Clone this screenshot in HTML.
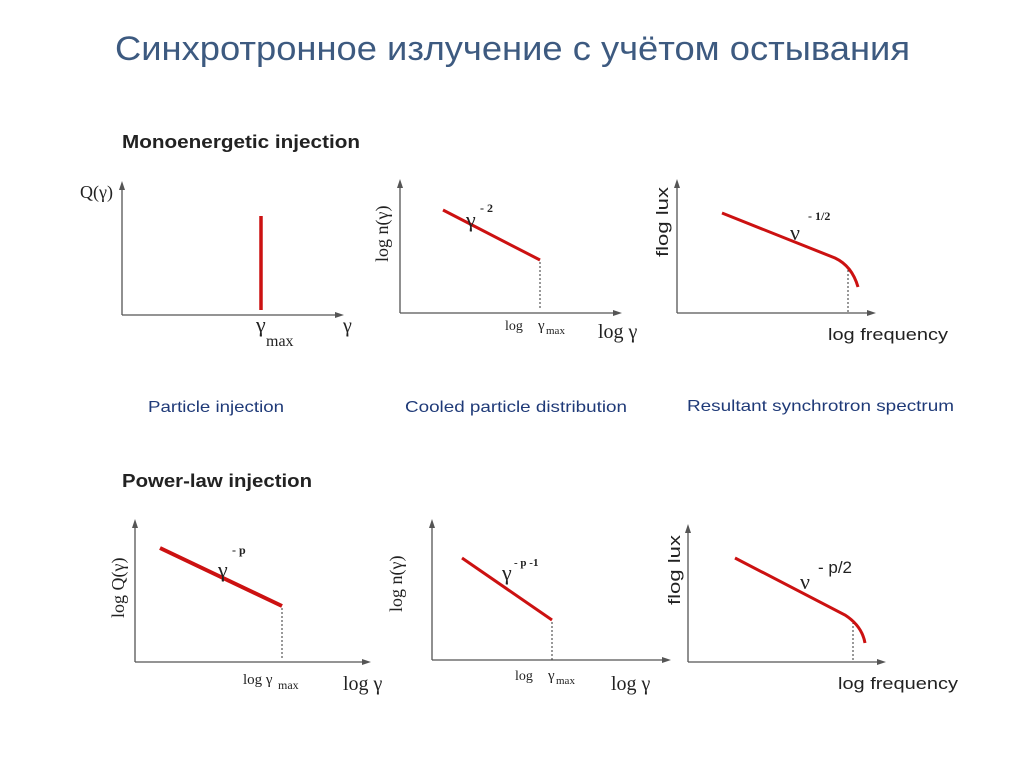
<!DOCTYPE html>
<html><head><meta charset="utf-8"><style>
body{margin:0;background:#fff;}
svg{display:block}
</style></head><body>
<svg width="1024" height="767" xmlns="http://www.w3.org/2000/svg">
<rect width="1024" height="767" fill="#fff"/>
<text x="115" y="60" textLength="795" lengthAdjust="spacingAndGlyphs" font-family="Liberation Sans, sans-serif" font-size="34" fill="#3d5a80">Синхротронное излучение с учётом остывания</text>
<g font-family="Liberation Sans, sans-serif" font-weight="bold" font-size="18" fill="#222">
<text x="122" y="148" textLength="238" lengthAdjust="spacingAndGlyphs">Monoenergetic injection</text>
<text x="122" y="487" textLength="190" lengthAdjust="spacingAndGlyphs">Power-law injection</text>
</g>
<g font-family="Liberation Sans, sans-serif" font-size="16" fill="#1f3a78">
<text x="148" y="412" textLength="136" lengthAdjust="spacingAndGlyphs">Particle injection</text>
<text x="405" y="412" textLength="222" lengthAdjust="spacingAndGlyphs">Cooled particle distribution</text>
<text x="687" y="411" textLength="267" lengthAdjust="spacingAndGlyphs">Resultant synchrotron spectrum</text>
</g>
<g stroke="#555" stroke-width="1.3" fill="none">
<path d="M122 315V187M122 315H338"/>
<path d="M400 313V185M400 313H616"/>
<path d="M677 313V185M677 313H870"/>
<path d="M135 662V525M135 662H365"/>
<path d="M432 660V525M432 660H665"/>
<path d="M688 662V530M688 662H880"/>
</g>
<g fill="#555">
<path d="M119 190L122 181L125 190Z M335 312L344 315L335 318Z"/>
<path d="M397 188L400 179L403 188Z M613 310L622 313L613 316Z"/>
<path d="M674 188L677 179L680 188Z M867 310L876 313L867 316Z"/>
<path d="M132 528L135 519L138 528Z M362 659L371 662L362 665Z"/>
<path d="M429 528L432 519L435 528Z M662 657L671 660L662 663Z"/>
<path d="M685 533L688 524L691 533Z M877 659L886 662L877 665Z"/>
</g>
<g stroke="#333" stroke-width="1" stroke-dasharray="2,2" fill="none">
<path d="M540 262V310M848 270V313M282 608V660M552 622V660M853 622V662"/>
</g>
<g stroke="#cc1111" fill="none" stroke-linecap="butt">
<path d="M261 216V310" stroke-width="3.5"/>
<path d="M443 210L540 260" stroke-width="3"/>
<path d="M722 213L835 258Q852 266 858 287" stroke-width="3"/>
<path d="M160 548L282 606" stroke-width="4"/>
<path d="M462 558L552 620" stroke-width="3"/>
<path d="M735 558L845 615Q862 626 865 643" stroke-width="3"/>
</g>
<g font-family="Liberation Serif, serif" font-size="18" fill="#222">
<text x="80" y="198">Q(γ)</text>
<text x="256" y="332" font-size="22">γ</text><text x="266" y="346" font-size="16">max</text>
<text x="343" y="332" font-size="20">γ</text>
<text transform="translate(388,262) rotate(-90)" font-size="18">log n(γ)</text>
<text x="466" y="227" font-size="22">γ</text><text x="480" y="212" font-size="12" font-weight="bold">- 2</text>
<text x="505" y="330" font-size="14">log</text><text x="538" y="330" font-size="15">γ</text><text x="546" y="334" font-size="11">max</text>
<text x="598" y="338" font-size="20">log γ</text>
<text x="218" y="577" font-size="22">γ</text><text x="232" y="554" font-size="12" font-weight="bold">- p</text>
<text transform="translate(124,618) rotate(-90)" font-size="18">log Q(γ)</text>
<text x="243" y="684" font-size="15">log γ</text><text x="278" y="689" font-size="12">max</text>
<text x="343" y="690" font-size="20">log γ</text>
<text transform="translate(402,612) rotate(-90)" font-size="18">log n(γ)</text>
<text x="502" y="580" font-size="22">γ</text><text x="514" y="566" font-size="11" font-weight="bold">- p -1</text>
<text x="515" y="680" font-size="14">log</text><text x="548" y="680" font-size="15">γ</text><text x="556" y="684" font-size="11">max</text>
<text x="611" y="690" font-size="20">log γ</text>
<text x="790" y="240" font-size="22">ν</text><text x="808" y="220" font-size="12" font-weight="bold">-  1/2</text>
<text x="800" y="589" font-size="22">ν</text>
</g>
<g font-family="Liberation Sans, sans-serif" font-size="17" fill="#222">
<text transform="translate(668,257) rotate(-90)" textLength="70" lengthAdjust="spacingAndGlyphs">flog lux</text>
<text x="828" y="340" textLength="120" lengthAdjust="spacingAndGlyphs">log frequency</text>
<text transform="translate(680,605) rotate(-90)" textLength="70" lengthAdjust="spacingAndGlyphs">flog lux</text>
<text x="818" y="573">- p/2</text>
<text x="838" y="689" textLength="120" lengthAdjust="spacingAndGlyphs">log frequency</text>
</g>
</svg>
</body></html>
